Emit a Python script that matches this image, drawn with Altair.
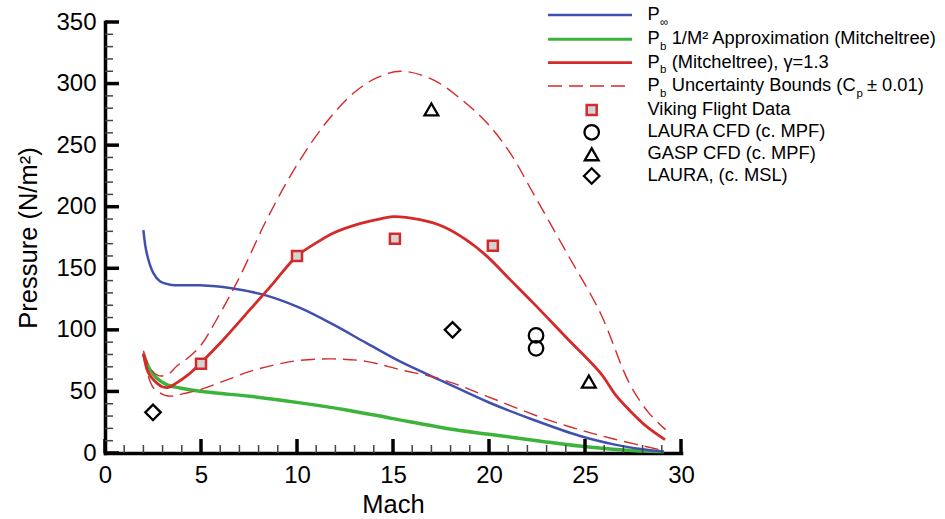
import altair as alt
import pandas as pd

# ---- Freestream pressure P_inf
pinf_mach = [2.0, 2.17, 2.52, 2.86, 3.39, 4.25, 4.95, 6.5, 8.42, 10.16, 11.9, 13.6,
             15.36, 17.6, 20.0, 22.3, 24.7, 26.5, 28.0, 29.1]
pinf_p = [181, 162.5, 146, 139.4, 136.7, 136.2, 136.2, 134, 127.8, 117.8, 104.2, 89.4,
          74.4, 58.2, 41.0, 27.0, 14.0, 7.0, 3.0, 1.0]

# ---- Base pressure, 1/M^2 approximation (Mitcheltree)
approx_mach = [2.0, 2.34, 2.69, 3.21, 3.9, 4.77, 5.8, 7.55, 9.98, 12.5, 15.0, 17.97,
               20.0, 22.5, 24.7, 27.0, 29.1]
approx_p = [80, 67.7, 60.9, 55.5, 52.8, 50.6, 48.7, 46, 41.1, 35.2, 27.9, 19.5,
            15.2, 10.0, 5.6, 2.4, 1.0]

# ---- Base pressure (Mitcheltree), gamma = 1.3
pb_mach = [2.0, 2.26, 2.6, 2.95, 3.3, 3.73, 4.34, 4.95, 6.16, 7.55, 8.77, 9.98, 11.0,
           11.9, 13.1, 14.3, 15.0, 16.4, 17.6, 18.8, 19.9, 21.1, 22.3, 24.05, 25.8,
           26.6, 27.3, 28.2, 29.17]
pb_p = [81, 65, 58.2, 54, 53.3, 56.9, 63.6, 72.5, 92, 116.4, 138, 159.7, 170.6,
        178.7, 185.5, 190, 192, 189.5, 184, 173.3, 159.7, 140.8, 121.9, 93.4, 65,
        47, 35, 21.6, 10.8]

# ---- Uncertainty bounds (Cp +/- 0.01)
upper_mach = [2.0, 2.34, 2.78, 3.3, 3.73, 4.3, 4.95, 5.8, 7.03, 8.42, 10.0, 11.5, 13.0,
              14.2, 15.4, 17.1, 18.8, 19.9, 21.1, 22.3, 24.05, 25.8, 27.3, 28.3, 29.2]
upper_p = [83, 69, 62.8, 64, 70.4, 77, 86.6, 108, 143.5, 189.5, 234, 268, 293,
           305, 310, 303, 284, 268, 243.7, 211, 162.5, 113.7, 57, 33, 19]
lower_mach = [2.0, 2.26, 2.52, 2.9, 3.2, 3.6, 4.08, 4.95, 6.2, 7.55, 8.9, 10.16, 11.9,
              13.6, 15.36, 17.6, 19.9, 22.8, 24.7, 26.5, 29.1]
lower_p = [79, 62, 53, 48.5, 46.5, 46.3, 48.2, 51.4, 58.5, 66.3, 71.8, 75.2, 76.4,
           74.4, 67.7, 59.5, 46, 28.4, 19, 11.4, 1.9]

# ---- Flight data and CFD points
viking_mach = [5.0, 10.0, 15.1, 20.2]
viking_p = [72.5, 160, 174, 168.4]
laura_mpf_mach = [22.45, 22.45]
laura_mpf_p = [95.5, 85]
gasp_mach = [17.0, 25.2]
gasp_p = [279, 58]
laura_msl_mach = [2.5, 18.1]
laura_msl_p = [33, 100]

x_major = list(range(0, 31, 5))
x_minor = [v for v in range(0, 31) if v % 5]
y_major = list(range(0, 351, 50))
y_minor = [v for v in range(0, 351, 10) if v % 50]

FONT = "Liberation Sans"
W, H = 576, 431
BLUE, GREEN, RED = "#4050b0", "#3cb43c", "#d42a2a"

xs = alt.Scale(domain=[0, 30], nice=False, zero=False)
ys = alt.Scale(domain=[0, 350], nice=False)

axis_style = dict(format="d", ticks=False, tickSize=0, grid=False,
                  domainColor="black", domainWidth=3.5, domainCap="square",
                  labelFont=FONT, labelFontSize=24, labelColor="black",
                  labelFlush=False, labelOverlap=False,
                  titleFont=FONT, titleFontSize=25.5, titleFontWeight="normal",
                  titleColor="black")
x_axis = alt.Axis(values=x_major, labelPadding=10, titlePadding=5, **axis_style)
y_axis = alt.Axis(values=y_major, labelPadding=9, titlePadding=14, **axis_style)

X = alt.X("Mach:Q", scale=xs, axis=x_axis, title="Mach")
Y = alt.Y("P:Q", scale=ys, axis=y_axis, title="Pressure (N/m²)")


def curve(mach, p, color, width, dash=None):
    kw = dict(color=color, strokeWidth=width, interpolate="catmull-rom")
    if dash:
        kw["strokeDash"] = dash
    return alt.Chart(pd.DataFrame({"Mach": mach, "P": p})).mark_line(**kw).encode(x=X, y=Y)


def points(mach, p, **style):
    return alt.Chart(pd.DataFrame({"Mach": mach, "P": p})).mark_point(
        opacity=1, **style).encode(x=X, y=Y)


SQUARE = dict(shape="square", size=100, filled=True, fill="#d3d3d3", stroke=RED, strokeWidth=2.5)
CIRCLE = dict(shape="circle", size=210, filled=False, stroke="black", strokeWidth=2.3)
TRIANGLE = dict(shape="triangle-up", size=190, filled=False, stroke="black", strokeWidth=2.3)
DIAMOND = dict(shape="diamond", size=240, filled=False, stroke="black", strokeWidth=2.3)
DASH = [14, 7]


# inward-pointing axis ticks
def xticks(vals, length, width, color):
    return alt.Chart(pd.DataFrame({"Mach": vals})).mark_rule(color=color, strokeWidth=width).encode(
        x=X, y=alt.value(H), y2=alt.value(H - length))


def yticks(vals, length, width, color):
    return alt.Chart(pd.DataFrame({"P": vals})).mark_rule(color=color, strokeWidth=width).encode(
        y=Y, x=alt.value(0), x2=alt.value(length))


one = pd.DataFrame({"k": [0]})
LFS = 18.3


def text(s, x, y, size=LFS):
    return alt.Chart(one).mark_text(text=s, font=FONT, fontSize=size, color="black",
                                    align="left", baseline="middle").encode(
        x=alt.value(x), y=alt.value(y))


def key_line(y, color, width, dash=None):
    kw = dict(color=color, strokeWidth=width)
    if dash:
        kw["strokeDash"] = dash
    return alt.Chart(one).mark_rule(**kw).encode(
        x=alt.value(443), x2=alt.value(527), y=alt.value(y))


def key_marker(y, style):
    return alt.Chart(one).mark_point(opacity=1, **style).encode(
        x=alt.value(486.7), y=alt.value(y))


TX, SUBX, RESTX = 542.5, 555, 566.7
rows = [-7, 17.3, 40.7, 64]
mrows = [88, 110.3, 132.3, 154]
SUB = 11.5

legend = [
    key_line(rows[0], BLUE, 2.5), text("P", TX, rows[0]), text("∞", SUBX, rows[0] + 7.5, SUB),
    key_line(rows[1], GREEN, 3), text("P", TX, rows[1]), text("b", SUBX, rows[1] + 7.5, SUB),
    text("1/M² Approximation (Mitcheltree)", RESTX, rows[1]),
    key_line(rows[2], RED, 2.8), text("P", TX, rows[2]), text("b", SUBX, rows[2] + 7.5, SUB),
    text("(Mitcheltree), γ=1.3", RESTX, rows[2]),
    key_line(rows[3], RED, 1.4, DASH), text("P", TX, rows[3]), text("b", SUBX, rows[3] + 7.5, SUB),
    text("Uncertainty Bounds (C", RESTX, rows[3]), text("p", 751.5, rows[3] + 7.5, SUB),
    text("± 0.01)", 762, rows[3]),
    key_marker(mrows[0], SQUARE), text("Viking Flight Data", TX, mrows[0]),
    key_marker(mrows[1], CIRCLE), text("LAURA CFD (c. MPF)", TX, mrows[1]),
    key_marker(mrows[2], TRIANGLE), text("GASP CFD (c. MPF)", TX, mrows[2]),
    key_marker(mrows[3], DIAMOND), text("LAURA, (c. MSL)", TX, mrows[3]),
]

layers = [
    curve(approx_mach, approx_p, GREEN, 3.5),
    curve(pinf_mach, pinf_p, BLUE, 2.5),
    curve(upper_mach, upper_p, RED, 1.4, DASH),
    curve(lower_mach, lower_p, RED, 1.4, DASH),
    curve(pb_mach, pb_p, RED, 2.8),
    points(viking_mach, viking_p, **SQUARE),
    points(laura_mpf_mach, laura_mpf_p, **CIRCLE),
    points(gasp_mach, gasp_p, **TRIANGLE),
    points(laura_msl_mach, laura_msl_p, **DIAMOND),
    xticks(x_minor, 8, 1.5, "#444"), xticks(x_major, 14, 3.5, "black"),
    yticks(y_minor, 8, 1.5, "#444"), yticks(y_major, 14, 3.5, "black"),
] + legend

chart = alt.layer(*layers).properties(
    width=W, height=H,
    autosize=alt.AutoSizeParams(type="none"),
    padding={"left": 105, "top": 22, "right": 264, "bottom": 66},
    background="white",
).configure_view(stroke=None)

chart.save("out.html", embed_options={"renderer": "svg", "actions": False})
